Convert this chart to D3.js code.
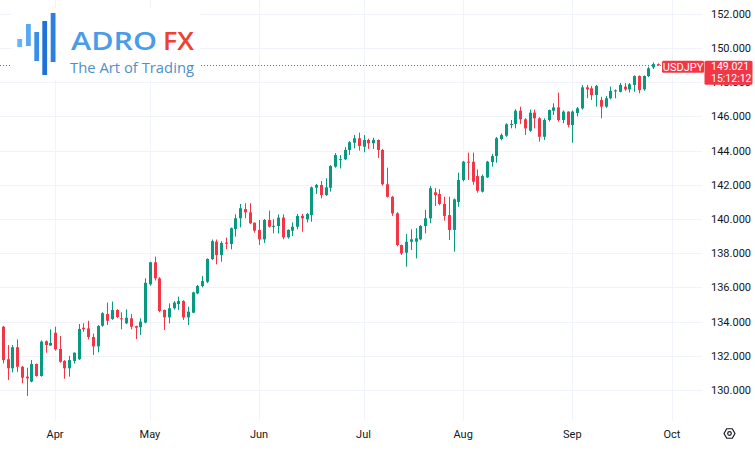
<!DOCTYPE html>
<html>
<head>
<meta charset="utf-8">
<script src="https://cdn.jsdelivr.net/npm/d3@7"></script>
<style>
  html, body { margin: 0; padding: 0; background: #fff; }
  svg { display: block; }
</style>
</head>
<body>
<svg id="chart"></svg>
<script>
const width = 755;
const height = 450;

// daily USDJPY candles, one per weekday from startDate
const startDate = "2023-03-17";
const opens = [
  133.70, 131.80, 131.27, 132.50, 131.36, 130.78, 130.49, 131.52, 130.82, 132.85,
  132.60, 133.35, 132.40, 131.70, 131.27, 131.70, 131.80, 133.64, 133.60, 133.10,
  132.55, 133.76, 134.44, 134.15, 134.68, 134.19, 133.90, 134.19, 133.74, 133.67,
  133.94, 136.18, 137.47, 136.53, 134.68, 134.25, 134.78, 135.03, 135.20, 134.25,
  134.52, 135.65, 136.08, 136.33, 137.66, 138.67, 137.89, 138.62, 138.54, 139.42,
  140.04, 140.58, 140.39, 139.78, 139.36, 138.81, 139.94, 139.55, 139.59, 140.08,
  138.93, 139.32, 139.55, 140.18, 139.98, 140.23, 141.83, 141.99, 141.40, 141.83,
  143.06, 143.45, 143.49, 144.04, 144.46, 144.72, 144.23, 144.62, 144.43, 144.62,
  144.04, 142.03, 141.30, 140.33, 138.48, 138.03, 138.67, 138.67, 138.81, 139.59,
  140.04, 141.56, 141.46, 140.88, 140.23, 139.36, 141.00, 142.28, 143.35, 143.35,
  142.51, 141.60, 142.44, 143.33, 143.68, 144.68, 144.87, 145.50, 145.56, 146.33,
  145.83, 145.16, 146.22, 145.89, 144.81, 145.79, 146.33, 146.53, 145.79, 146.28,
  145.50, 146.20, 146.47, 147.70, 147.64, 147.25, 146.96, 146.57, 147.06, 147.46,
  147.44, 147.74, 147.58, 147.84, 148.36, 147.58, 148.36, 148.87, 149.05
];
const highs = [
  133.75, 132.63, 132.63, 132.96, 131.40, 131.30, 131.75, 131.55, 132.90, 132.90,
  133.55, 133.70, 133.16, 131.75, 131.99, 132.20, 133.86, 133.90, 134.05, 133.30,
  133.80, 134.55, 135.11, 135.17, 134.72, 134.54, 134.72, 134.44, 133.76, 134.19,
  136.53, 137.50, 137.80, 136.60, 134.70, 135.07, 135.20, 135.46, 135.25, 134.87,
  135.75, 136.15, 136.67, 137.70, 138.80, 138.80, 138.70, 138.91, 139.50, 140.27,
  140.88, 140.92, 140.92, 139.80, 139.94, 140.00, 140.49, 139.98, 140.27, 140.27,
  139.40, 139.80, 140.30, 140.30, 140.35, 141.90, 142.05, 142.22, 142.38, 143.15,
  143.85, 143.74, 144.20, 144.55, 144.91, 145.05, 144.91, 144.70, 144.75, 144.65,
  144.10, 143.00, 141.35, 140.40, 138.50, 139.12, 139.40, 139.46, 139.65, 140.53,
  141.93, 141.80, 141.74, 141.30, 141.30, 141.20, 142.71, 143.40, 143.88, 143.88,
  142.90, 142.60, 143.40, 143.80, 144.80, 145.00, 145.60, 145.79, 146.42, 146.57,
  145.90, 146.40, 146.40, 145.95, 145.89, 146.40, 146.77, 147.39, 146.35, 146.30,
  146.35, 146.55, 147.84, 147.84, 147.78, 147.84, 147.15, 147.20, 147.74, 147.58,
  147.95, 147.95, 147.95, 148.40, 148.40, 148.40, 148.91, 149.16, 149.10
];
const lows = [
  131.55, 130.58, 131.03, 131.06, 130.39, 129.65, 130.45, 130.78, 130.78, 132.18,
  132.58, 132.30, 131.60, 130.66, 130.78, 131.55, 131.75, 133.40, 132.95, 132.05,
  132.20, 133.70, 133.80, 134.10, 134.20, 133.55, 133.85, 133.55, 132.98, 133.22,
  133.90, 136.10, 136.40, 134.55, 133.51, 133.90, 134.70, 134.68, 134.10, 133.80,
  134.50, 135.60, 136.00, 136.25, 137.60, 137.35, 137.50, 138.23, 138.23, 138.97,
  139.51, 140.04, 139.70, 139.20, 138.48, 138.60, 139.50, 139.16, 139.16, 138.81,
  138.85, 139.00, 139.40, 139.26, 139.80, 139.84, 141.46, 141.21, 141.35, 141.60,
  143.00, 142.96, 143.45, 143.74, 144.13, 144.00, 143.90, 144.10, 144.10, 143.57,
  141.95, 141.25, 140.18, 138.40, 137.89, 137.21, 138.19, 137.70, 138.75, 139.16,
  139.75, 140.76, 140.80, 139.90, 138.77, 138.09, 140.72, 142.20, 142.28, 142.00,
  141.54, 141.55, 142.40, 143.06, 143.29, 144.60, 144.80, 145.30, 145.30, 145.56,
  144.91, 145.10, 145.30, 144.52, 144.62, 145.70, 146.08, 145.69, 145.60, 145.36,
  144.46, 146.00, 146.40, 147.06, 146.96, 146.57, 145.89, 146.50, 147.00, 147.06,
  147.40, 147.50, 147.40, 147.44, 147.35, 147.50, 148.30, 148.77, 148.96
];
const closes = [
  131.75, 131.27, 132.50, 131.36, 130.72, 130.68, 131.52, 130.82, 132.83, 132.63,
  132.75, 132.38, 131.65, 131.27, 131.75, 132.18, 133.57, 133.55, 133.10, 132.55,
  133.74, 134.49, 134.05, 134.68, 134.27, 134.13, 134.23, 133.70, 133.64, 134.00,
  136.27, 137.47, 136.53, 134.62, 134.25, 134.78, 135.11, 135.20, 134.25, 134.58,
  135.71, 136.08, 136.37, 137.66, 138.70, 137.89, 138.60, 138.55, 139.46, 140.04,
  140.63, 140.39, 139.75, 139.32, 138.81, 139.94, 139.55, 139.60, 140.08, 138.93,
  139.36, 139.55, 140.18, 140.04, 140.29, 141.85, 141.99, 141.40, 141.85, 143.10,
  143.74, 143.50, 144.04, 144.49, 144.72, 144.27, 144.62, 144.43, 144.62, 144.04,
  142.03, 141.30, 140.33, 138.48, 137.99, 138.67, 138.81, 138.87, 139.59, 140.04,
  141.80, 141.40, 140.88, 140.18, 139.36, 141.15, 142.28, 143.35, 143.30, 142.18,
  141.65, 142.51, 143.35, 143.68, 144.72, 144.91, 145.54, 145.56, 146.33, 145.83,
  145.30, 146.22, 145.89, 144.81, 145.79, 146.37, 146.53, 145.79, 146.28, 145.50,
  146.28, 146.47, 147.70, 147.58, 147.25, 147.78, 146.57, 147.06, 147.49, 147.52,
  147.84, 147.58, 147.88, 148.36, 147.54, 148.36, 148.81, 149.06, 149.02
];

const priceTicks = [130, 132, 134, 136, 138, 140, 142, 144, 146, 148, 150, 152];
const monthLabels = ["Apr", "May", "Jun", "Jul", "Aug", "Sep", "Oct"];
const monthStarts = ["2023-04-03", "2023-05-01", "2023-06-01", "2023-07-03", "2023-08-01", "2023-09-01", "2023-10-02"];
const symbol = "USDJPY";
const lastPrice = 149.021;
const countdown = "15:12:12";

const up = "#089981";
const down = "#f23645";
const gridColor = "#f0f3fa";
const textColor = "#131722";
const axisFont = "Roboto, 'Noto Sans', sans-serif";

const parse = d3.timeParse("%Y-%m-%d");
const fmt = d3.timeFormat("%Y-%m-%d");
const days = d3.timeDay.range(parse(startDate), parse("2023-10-07"))
  .filter(d => d.getDay() !== 0 && d.getDay() !== 6);
const dayIndex = new Map(days.map((d, i) => [fmt(d), i]));

const candles = opens.map((o, i) => ({
  i: i, o: o, h: highs[i], l: lows[i], c: closes[i]
}));

const plotRight = 702;
const plotBottom = 421;

const x = d3.scaleLinear()
  .domain([0, dayIndex.get("2023-10-02")])
  .range([2.8, 672]);

const y = d3.scaleLinear()
  .domain([130, 150])
  .range([390, 48]);

const svg = d3.select("#chart")
  .attr("width", width)
  .attr("height", height)
  .style("background", "#fff");

// grid
svg.append("g")
  .selectAll("line")
  .data(priceTicks)
  .join("line")
  .attr("x1", 0)
  .attr("x2", plotRight)
  .attr("y1", d => Math.round(y(d)) + 0.5)
  .attr("y2", d => Math.round(y(d)) + 0.5)
  .attr("stroke", gridColor)
  .attr("stroke-width", 1);

svg.append("g")
  .selectAll("line")
  .data(monthStarts)
  .join("line")
  .attr("x1", d => Math.round(x(dayIndex.get(d))) + 0.5)
  .attr("x2", d => Math.round(x(dayIndex.get(d))) + 0.5)
  .attr("y1", 0)
  .attr("y2", plotBottom)
  .attr("stroke", gridColor)
  .attr("stroke-width", 1);

// last price dotted line
svg.append("line")
  .attr("x1", 0)
  .attr("x2", 662)
  .attr("y1", Math.round(y(lastPrice)) + 0.5)
  .attr("y2", Math.round(y(lastPrice)) + 0.5)
  .attr("stroke", down)
  .attr("stroke-width", 1)
  .attr("stroke-dasharray", "1,2");

// candles
const cg = svg.append("g");
cg.selectAll("line")
  .data(candles)
  .join("line")
  .attr("x1", d => Math.round(x(d.i)) + 0.5)
  .attr("x2", d => Math.round(x(d.i)) + 0.5)
  .attr("y1", d => y(d.h))
  .attr("y2", d => y(d.l))
  .attr("stroke", d => d.c >= d.o ? up : down)
  .attr("stroke-width", 1);

cg.selectAll("rect")
  .data(candles)
  .join("rect")
  .attr("x", d => Math.round(x(d.i)) - 1)
  .attr("y", d => y(Math.max(d.o, d.c)))
  .attr("width", 3)
  .attr("height", d => Math.max(1, Math.abs(y(d.o) - y(d.c))))
  .attr("fill", d => d.c >= d.o ? up : down);

// price axis labels (the 148 one sits partly under the last-price box)
svg.append("g")
  .selectAll("text")
  .data(priceTicks)
  .join("text")
  .attr("x", 711)
  .attr("y", d => y(d) + 4)
  .attr("font-family", axisFont)
  .attr("font-size", 11)
  .attr("fill", textColor)
  .text(d => d3.format(".3f")(d));

// time axis labels
svg.append("g")
  .selectAll("text")
  .data(monthStarts)
  .join("text")
  .attr("x", d => x(dayIndex.get(d)))
  .attr("y", 438)
  .attr("text-anchor", "middle")
  .attr("font-family", axisFont)
  .attr("font-size", 11)
  .attr("fill", textColor)
  .text((d, i) => monthLabels[i]);

// last price label
const ly = y(lastPrice);
svg.append("rect")
  .attr("x", 662).attr("y", ly - 4).attr("width", 42).attr("height", 12)
  .attr("rx", 1.5)
  .attr("fill", down);
svg.append("text")
  .attr("x", 683).attr("y", ly + 5.8)
  .attr("text-anchor", "middle")
  .attr("font-family", axisFont)
  .attr("font-size", 11)
  .attr("fill", "#fff")
  .text(symbol);
svg.append("rect")
  .attr("x", 704.5).attr("y", ly - 4).attr("width", 48).attr("height", 24)
  .attr("rx", 1.5)
  .attr("fill", down);
svg.append("text")
  .attr("x", 711).attr("y", ly + 5.5)
  .attr("font-family", axisFont)
  .attr("font-size", 10.5)
  .attr("fill", "#fff")
  .text(d3.format(".3f")(lastPrice));
svg.append("text")
  .attr("x", 711).attr("y", ly + 17.5)
  .attr("font-family", axisFont)
  .attr("font-size", 10.5)
  .attr("fill", "#fff")
  .text(countdown);

// settings icon
const gear = svg.append("g").attr("transform", "translate(729.5,433.5)");
const hex = d3.range(6).map(k => {
  const a = Math.PI / 3 * k;
  return [5.5 * Math.cos(a), 5.5 * Math.sin(a)];
});
gear.append("path")
  .attr("d", d3.line()(hex) + "Z")
  .attr("fill", "none")
  .attr("stroke", textColor)
  .attr("stroke-width", 1.2)
  .attr("stroke-linejoin", "round");
gear.append("circle")
  .attr("r", 1.8)
  .attr("fill", "none")
  .attr("stroke", textColor)
  .attr("stroke-width", 1.2);

// logo
const logo = svg.append("g");
logo.append("rect")
  .attr("x", 12).attr("y", 8).attr("width", 188).attr("height", 72)
  .attr("fill", "#fff");
const logoBars = [
  { x: 17.3, y0: 39, y1: 47, c: "#69b4f5" },
  { x: 26, y0: 24, y1: 46, c: "#5aa8f2" },
  { x: 34.3, y0: 32, y1: 61, c: "#3a8ee8" },
  { x: 42.3, y0: 21, y1: 75, c: "#1f73d8" },
  { x: 50.7, y0: 13, y1: 62, c: "#2a7fe0" }
];
logo.selectAll(".bar")
  .data(logoBars)
  .join("rect")
  .attr("class", "bar")
  .attr("x", d => d.x)
  .attr("y", d => d.y0)
  .attr("width", 4.8)
  .attr("height", d => d.y1 - d.y0)
  .attr("fill", d => d.c);
logo.append("text")
  .attr("x", 71).attr("y", 50)
  .attr("font-family", "'Open Sans', sans-serif")
  .attr("font-weight", 600)
  .attr("font-size", 26)
  .attr("textLength", 86)
  .attr("lengthAdjust", "spacingAndGlyphs")
  .attr("fill", "#4a9be8")
  .text("ADRO");
logo.append("text")
  .attr("x", 163).attr("y", 50)
  .attr("font-family", "'Open Sans', sans-serif")
  .attr("font-weight", 600)
  .attr("font-size", 26)
  .attr("textLength", 31)
  .attr("lengthAdjust", "spacingAndGlyphs")
  .attr("fill", "#ef4130")
  .text("FX");
logo.append("text")
  .attr("x", 70).attr("y", 73)
  .attr("font-family", "'Open Sans', sans-serif")
  .attr("font-size", 15)
  .attr("textLength", 124)
  .attr("lengthAdjust", "spacingAndGlyphs")
  .attr("fill", "#4f8fc9")
  .text("The Art of Trading");
</script>
</body>
</html>
